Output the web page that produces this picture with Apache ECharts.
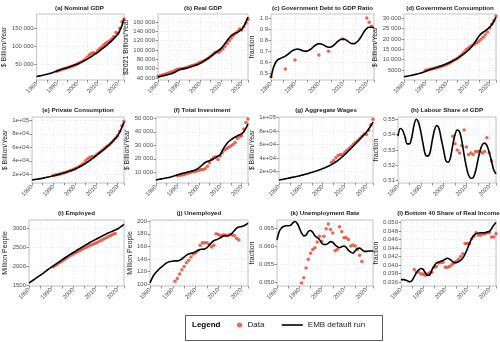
<!DOCTYPE html>
<html>
<head>
<meta charset="utf-8">
<script src="https://cdn.jsdelivr.net/npm/echarts@6/dist/echarts.min.js"></script>
<style>
  html, body { margin: 0; background: #fff; }
  #chart { width: 500px; height: 342px; }
</style>
</head>
<body>
<div id="chart"></div>
<script>
// model runs are yearly, 1980..2023
const modelStart = 1980

const nominalModel = [15000, 16300, 17600, 18900, 20200, 21600, 23000, 24500, 26400, 28600, 31000, 32800, 34600, 36400, 38200, 40000, 41900, 43800, 45800, 47900, 50000, 52700, 55400, 58200, 61000, 64000, 67500, 71200, 75000, 79000, 83000, 87200, 91500, 95800, 100300, 105000, 110000, 115500, 121300, 127500, 134000, 144000, 158000, 176000]
const nominalData = [30000, 32000, 34000, 36000, 37500, 39000, 41000, 43000, 45000, 47500, 50000, 53000, 56000, 59500, 64000, 70000, 76000, 80000, 82000, 80000, 87000, 93000, 98000, 103000, 108000, 112000, 115000, 121000, 127000, 138000, 136000, 150000, 168000, 176000]
const nominalYears = [1990, 2023]

const realModel = [42000, 43000, 44000, 45000, 46000, 47200, 48500, 50000, 52000, 54500, 57000, 58500, 59500, 60500, 61500, 63000, 64500, 66000, 67500, 69000, 71000, 73500, 76500, 79500, 82500, 85500, 89000, 92500, 96000, 99500, 103000, 108000, 114000, 120000, 126000, 131000, 134000, 136000, 138000, 141000, 145000, 151000, 160000, 171000]
const realData = [43000, 44500, 46000, 47500, 49000, 50500, 52000, 54000, 56000, 58000, 59000, 59500, 60000, 61500, 63000, 64500, 66000, 67500, 69000, 71000, 73500, 75000, 77000, 79500, 82500, 86000, 90000, 94000, 96000, 95000, 99000, 103000, 108000, 114000, 120000, 126000, 131000, 136000, 140000, 145000, 143000, 150000, 158000, 166000]
const realYears = [1980, 2023]

const debtModel = [0.46, 0.55, 0.60, 0.625, 0.635, 0.645, 0.655, 0.67, 0.69, 0.705, 0.715, 0.72, 0.715, 0.705, 0.70, 0.70, 0.71, 0.725, 0.745, 0.76, 0.768, 0.765, 0.755, 0.742, 0.735, 0.737, 0.75, 0.77, 0.79, 0.805, 0.81, 0.805, 0.79, 0.775, 0.768, 0.77, 0.785, 0.81, 0.845, 0.88, 0.905, 0.915, 0.915, 0.91]
const debtDataYears = [1980, 1986, 1990, 2000, 2004, 2010, 2020, 2021, 2022]
const debtData = [0.47, 0.54, 0.62, 0.665, 0.70, 0.81, 1.00, 0.96, 0.925]

const govModel = [1700, 1900, 2100, 2300, 2500, 2750, 3000, 3250, 3550, 3900, 4300, 4700, 5100, 5450, 5800, 6150, 6500, 6850, 7200, 7600, 8000, 8450, 8950, 9450, 10000, 10600, 11300, 12000, 12800, 13600, 14500, 15500, 16700, 18100, 19700, 21200, 22400, 23200, 23900, 24700, 25600, 26800, 28500, 30500]
const govData = [4800, 5000, 5300, 5500, 5800, 6000, 6300, 6600, 6900, 7300, 7700, 8200, 8800, 9400, 10000, 10700, 11500, 12500, 13600, 14700, 15500, 16300, 16900, 17500, 18100, 18900, 19800, 20800, 22000, 23300, 25300, 27000, 28800, 31000]
const govYears = [1990, 2023]

const consModel = [11500, 12000, 12500, 13000, 13500, 14100, 14800, 15500, 16200, 17000, 17800, 18600, 19400, 20200, 21100, 22000, 23000, 24000, 25000, 26200, 27500, 29000, 30600, 32300, 34100, 36000, 38200, 40400, 42700, 45200, 47800, 50300, 52800, 55300, 57800, 60500, 63400, 66500, 69800, 73300, 77200, 82500, 89500, 98000]
const consData = [18000, 18800, 19600, 20500, 21400, 22300, 23300, 24400, 25500, 26800, 28200, 29800, 31500, 33500, 36000, 40000, 43000, 45000, 46500, 46000, 48500, 51000, 53500, 56000, 59000, 61500, 63500, 66500, 70000, 73500, 77000, 84000, 92000, 98500]
const consYears = [1990, 2023]

const invModel = [4300, 4600, 4900, 5200, 5500, 5800, 6100, 6500, 7000, 7500, 8000, 8500, 9000, 9400, 9800, 10200, 10600, 11000, 11500, 12200, 13200, 14500, 16000, 17200, 18000, 18600, 19200, 20000, 21000, 22000, 23000, 26000, 28800, 31000, 32800, 34000, 35200, 36200, 37000, 37800, 38500, 40000, 42500, 46000]
const invData = [7500, 7800, 8000, 8300, 8800, 9300, 9800, 10300, 10600, 11000, 11500, 12000, 12000, 12500, 14500, 17000, 19500, 21000, 21500, 19500, 22000, 24500, 26500, 27500, 28500, 29500, 30500, 32000, 35000, 36500, 37000, 42000, 47000, 49500]
const invYears = [1990, 2023]

const wageModel = [7200, 7800, 8400, 9000, 9700, 10400, 11100, 11800, 12500, 13200, 14000, 14800, 15700, 16600, 17500, 18500, 19500, 20600, 21700, 22900, 24100, 25400, 26800, 28400, 30000, 31800, 34000, 36400, 39000, 41700, 44600, 47700, 50900, 54200, 57600, 61000, 64400, 67800, 71200, 74600, 78000, 82500, 87500, 93000]
const wageData = [33000, 36000, 40000, 43500, 45000, 44500, 48000, 51000, 54000, 57000, 60000, 63000, 65500, 68500, 72000, 75500, 74500, 81000, 89000, 97000]
const wageYears = [2004, 2023]

const laborModel = [0.539, 0.544, 0.543, 0.539, 0.534, 0.534, 0.538, 0.546, 0.550, 0.548, 0.542, 0.534, 0.527, 0.526, 0.528, 0.536, 0.543, 0.546, 0.544, 0.537, 0.530, 0.523, 0.522, 0.525, 0.533, 0.540, 0.543, 0.542, 0.536, 0.527, 0.519, 0.5135, 0.5115, 0.512, 0.516, 0.523, 0.5295, 0.5335, 0.5345, 0.533, 0.5285, 0.523, 0.517, 0.5145]
const laborData = [0.539, 0.534, 0.530, 0.528, 0.533, 0.543, 0.532, 0.527, 0.528, 0.527, 0.529, 0.529, 0.529, 0.528, 0.529, 0.538, 0.528, 0.523]
const laborYears = [2004, 2021]

const empModel = [1560, 1600, 1640, 1680, 1720, 1760, 1800, 1845, 1890, 1935, 1975, 2015, 2055, 2095, 2135, 2175, 2215, 2255, 2295, 2330, 2365, 2400, 2440, 2475, 2510, 2545, 2580, 2615, 2650, 2680, 2710, 2740, 2770, 2800, 2830, 2860, 2890, 2915, 2940, 2965, 2990, 3030, 3070, 3110]
const empData = [1990, 2030, 2065, 2100, 2140, 2180, 2220, 2260, 2300, 2330, 2360, 2390, 2420, 2450, 2480, 2510, 2540, 2570, 2590, 2615, 2640, 2670, 2700, 2730, 2760, 2790, 2820, 2850, 2870]
const empYears = [1991, 2019]

const unempModel = [102, 110, 116, 120, 124, 127, 130, 133, 135, 136, 136.5, 137, 137, 138, 140, 143, 146, 148, 149, 150, 151.5, 153.5, 155, 155.5, 156, 158, 162, 166, 169, 170.5, 172, 174, 176, 177, 177, 178, 181, 185, 189, 191, 191.5, 192.5, 194.5, 197]
const unempData = [104.5, 109, 116, 123, 128, 134, 138, 143, 148, 150, 153, 162, 166, 166, 166, 163, 159, 162, 180, 179, 177, 178, 178, 177, 179, 178, 177, 173, 170]
const unempYears = [1991, 2019]

const rateModel = [0.0617, 0.0640, 0.0650, 0.0654, 0.0656, 0.0656, 0.0657, 0.0663, 0.0668, 0.0663, 0.0650, 0.0636, 0.0628, 0.0630, 0.0640, 0.0643, 0.0638, 0.0628, 0.0623, 0.0618, 0.0608, 0.0604, 0.0604, 0.0608, 0.0612, 0.0610, 0.0603, 0.0598, 0.0595, 0.0598, 0.0600, 0.0596, 0.0588, 0.0583, 0.0580, 0.0586, 0.0593, 0.0594, 0.0590, 0.0585, 0.0585, 0.0586, 0.0586, 0.0586]
const rateData = [0.0497, 0.0512, 0.0539, 0.0563, 0.0580, 0.0590, 0.0595, 0.0611, 0.0627, 0.0613, 0.0627, 0.0648, 0.0661, 0.0646, 0.0636, 0.0587, 0.0590, 0.0653, 0.0640, 0.0623, 0.0623, 0.0618, 0.0600, 0.0603, 0.0600, 0.0590, 0.0574, 0.0557]
const rateYears = [1991, 2018]

const b40Model = [0.0366, 0.0366, 0.0365, 0.0363, 0.0361, 0.0364, 0.0373, 0.0382, 0.0389, 0.0392, 0.0390, 0.0382, 0.0376, 0.0377, 0.0389, 0.0398, 0.0405, 0.0407, 0.0409, 0.0411, 0.0414, 0.0416, 0.0414, 0.0410, 0.0406, 0.0406, 0.0408, 0.0411, 0.0417, 0.0426, 0.0438, 0.0451, 0.0462, 0.0470, 0.0474, 0.0475, 0.0476, 0.0476, 0.0476, 0.0478, 0.0479, 0.0486, 0.0494, 0.0500]
const b40Data = [0.0390, 0.0384, 0.0384, 0.0379, 0.0379, 0.0376, 0.0379, 0.0382, 0.0383, 0.0395, 0.0397, 0.0405, 0.0406, 0.0407, 0.0395, 0.0395, 0.0397, 0.0401, 0.0405, 0.0409, 0.0414, 0.0420, 0.0427, 0.0451, 0.0451, 0.0451, 0.0462, 0.0468, 0.0476, 0.0471, 0.0471, 0.0473, 0.0474, 0.0476, 0.0476, 0.0466, 0.0466, 0.0474]
const b40Years = [1986, 2023]

const xTicks = [1980, 1990, 2000, 2010, 2020]

// panel definitions: title, y-axis name, y range, y tick labels, label style
const panels = [
  { title: '(a) Nominal GDP', yName: '$ Billion/Year', min: 5500, max: 190000, ticks: [50000, 100000, 150000], fmt: 'big', model: nominalModel, data: nominalData, dataYears: nominalYears },
  { title: '(b) Real GDP', yName: '$2021 Billion/Year', min: 35500, max: 177500, ticks: [40000, 60000, 80000, 100000, 120000, 140000, 160000], fmt: 'big', model: realModel, data: realData, dataYears: realYears },
  { title: '(c) Government Debt to GDP Ratio', yName: 'fraction', min: 0.44, max: 1.035, ticks: [0.5, 0.6, 0.7, 0.8, 0.9, 1.0], fmt: 1, model: debtModel, data: debtData, dataYears: debtDataYears },
  { title: '(d) Government Consumption', yName: '$ Billion/Year', min: 150, max: 32000, ticks: [5000, 10000, 15000, 20000, 25000, 30000], fmt: 'big', model: govModel, data: govData, dataYears: govYears },
  { title: '(e) Private Consumption', yName: '$ Billion/Year', min: 7000, max: 105000, ticks: [20000, 40000, 60000, 80000, 100000], fmt: 'sci', model: consModel, data: consData, dataYears: consYears },
  { title: '(f) Total Investment', yName: '$ Billion/Year', min: 2000, max: 51000, ticks: [10000, 20000, 30000, 40000, 50000], fmt: 'big', model: invModel, data: invData, dataYears: invYears },
  { title: '(g) Aggregate Wages', yName: '$ Billion/Year', min: 2800, max: 100500, ticks: [20000, 40000, 60000, 80000, 100000], fmt: 'sci', model: wageModel, data: wageData, dataYears: wageYears },
  { title: '(h) Labour Share of GDP', yName: 'fraction', min: 0.5085, max: 0.5515, ticks: [0.51, 0.52, 0.53, 0.54, 0.55], fmt: 2, model: laborModel, data: laborData, dataYears: laborYears },
  { title: '(i) Employed', yName: 'Million People', min: 1480, max: 3230, ticks: [1500, 2000, 2500, 3000], fmt: 'big', model: empModel, data: empData, dataYears: empYears },
  { title: '(j) Unemployed', yName: 'Million People', min: 97, max: 202, ticks: [100, 120, 140, 160, 180, 200], fmt: 'big', model: unempModel, data: unempData, dataYears: unempYears },
  { title: '(k) Unemployment Rate', yName: 'fraction', min: 0.0489, max: 0.0672, ticks: [0.050, 0.055, 0.060, 0.065], fmt: 3, model: rateModel, data: rateData, dataYears: rateYears },
  { title: '(l) Bottom 40 Share of Real Income', yName: 'fraction', min: 0.0351, max: 0.0506, ticks: [0.036, 0.038, 0.040, 0.042, 0.044, 0.046, 0.048, 0.050], fmt: 3, model: b40Model, data: b40Data, dataYears: b40Years }
]

// plot boxes [left, top, right, bottom], x of the y-axis title centre, y of the panel title centre
const layout = [
  [35, 14, 124, 80, 7, 9], [158, 14, 248, 80, 132, 9], [271, 14, 374, 80, 256, 9], [404, 14, 496, 80, 377, 9],
  [32, 117, 124, 183, 7, 111], [156, 117, 248, 183, 132, 111], [279, 117, 373, 183, 256, 111], [398, 117, 496, 183, 379, 111],
  [29, 220, 124, 286, 10, 214], [150, 220, 248, 286, 132, 214], [277, 220, 373, 286, 256, 214], [401, 220, 496, 286, 379, 214]
]

function fmtLabel(kind, v) {
  if (kind === 'big') {
    const s = String(Math.round(v))
    return s.length > 4 ? s.replace(/\B(?=(\d{3})+(?!\d))/g, ' ') : s
  }
  if (kind === 'sci') {
    const [m, e] = v.toExponential(0).split('e')
    const n = Math.abs(+e)
    return m + 'e' + (+e < 0 ? '-' : '+') + (n < 10 ? '0' + n : n)
  }
  return v.toFixed(kind)
}

function dataPoints(p) {
  if (p.dataYears.length === p.data.length) return p.data.map((v, i) => [p.dataYears[i], v])
  return p.data.map((v, i) => [p.dataYears[0] + i, v])
}

const font = 'Liberation Sans'
const gridLine = { show: true, lineStyle: { color: '#d9d9d9', width: 0.6, type: [1, 2] } }
const tickStyle = { color: '#4d4d4d', width: 0.6 }
const grids = [], xAxes = [], yAxes = [], series = [], titles = []

panels.forEach((p, i) => {
  const [l, t, r, b, nx, ty] = layout[i]
  grids.push({ left: l, top: t, width: r - l, height: b - t, show: true, borderColor: '#b3b3b3', borderWidth: 0.8 })
  titles.push({
    text: p.title, left: (l + r) / 2, top: ty - 4, textAlign: 'center', padding: 0,
    textStyle: { fontFamily: font, fontSize: 6.2, fontWeight: 'bold', color: '#1a1a1a' }
  })
  xAxes.push({
    gridIndex: i, type: 'value', min: 1980, max: 2023, interval: 5,
    axisLine: { show: false },
    axisTick: { show: true, length: 2.5, lineStyle: tickStyle },
    axisLabel: {
      fontFamily: font, fontSize: 6, color: '#4d4d4d', rotate: 45, margin: 3,
      formatter: v => xTicks.includes(v) ? String(v) : ''
    },
    splitLine: gridLine
  })
  yAxes.push({
    gridIndex: i, type: 'value', min: p.min, max: p.max,
    name: p.yName, nameLocation: 'middle', nameGap: l - nx - 4,
    nameTextStyle: { fontFamily: font, fontSize: 7, color: '#1a1a1a' },
    axisLine: { show: false },
    axisTick: { show: true, length: 2.5, lineStyle: tickStyle, customValues: p.ticks },
    axisLabel: {
      customValues: p.ticks, fontFamily: font, fontSize: 6, color: '#4d4d4d', margin: 3,
      formatter: v => fmtLabel(p.fmt, v)
    },
    splitLine: gridLine
  })
  series.push({
    name: 'EMB default run', type: 'line', xAxisIndex: i, yAxisIndex: i, smooth: 0.3,
    symbol: 'none', lineStyle: { color: '#000', width: 1.6 }, itemStyle: { color: '#000' },
    data: p.model.map((v, k) => [modelStart + k, v])
  })
  series.push({
    name: 'Data', type: 'scatter', xAxisIndex: i, yAxisIndex: i, symbolSize: 3.5,
    itemStyle: { color: '#e8412c' }, data: dataPoints(p)
  })
})

titles.push({
  text: 'Legend', left: 192, top: 321, padding: 0,
  textStyle: { fontFamily: font, fontSize: 8, fontWeight: 'bold', color: '#000' }
})

const legendText = { fontFamily: font, fontSize: 8, color: '#1a1a1a' }

const chart = echarts.init(document.getElementById('chart'))
chart.setOption({
  animation: false,
  title: titles,
  grid: grids,
  xAxis: xAxes,
  yAxis: yAxes,
  legend: [
    {
      data: [{ name: 'Data', icon: 'circle' }], left: 237, top: 321, padding: 0,
      itemWidth: 6, itemHeight: 5, textStyle: legendText, selectedMode: false
    },
    {
      data: [{ name: 'EMB default run', itemStyle: { opacity: 0 } }], left: 281, top: 321, padding: 0,
      itemWidth: 21, itemHeight: 5, textStyle: legendText, selectedMode: false,
      lineStyle: { width: 1.6 }
    }
  ],
  graphic: [{
    type: 'rect', left: 183, top: 313, silent: true,
    shape: { width: 197, height: 25 },
    style: { fill: 'none', stroke: '#333', lineWidth: 0.8 }
  }],
  series: series
})
</script>
</body>
</html>
